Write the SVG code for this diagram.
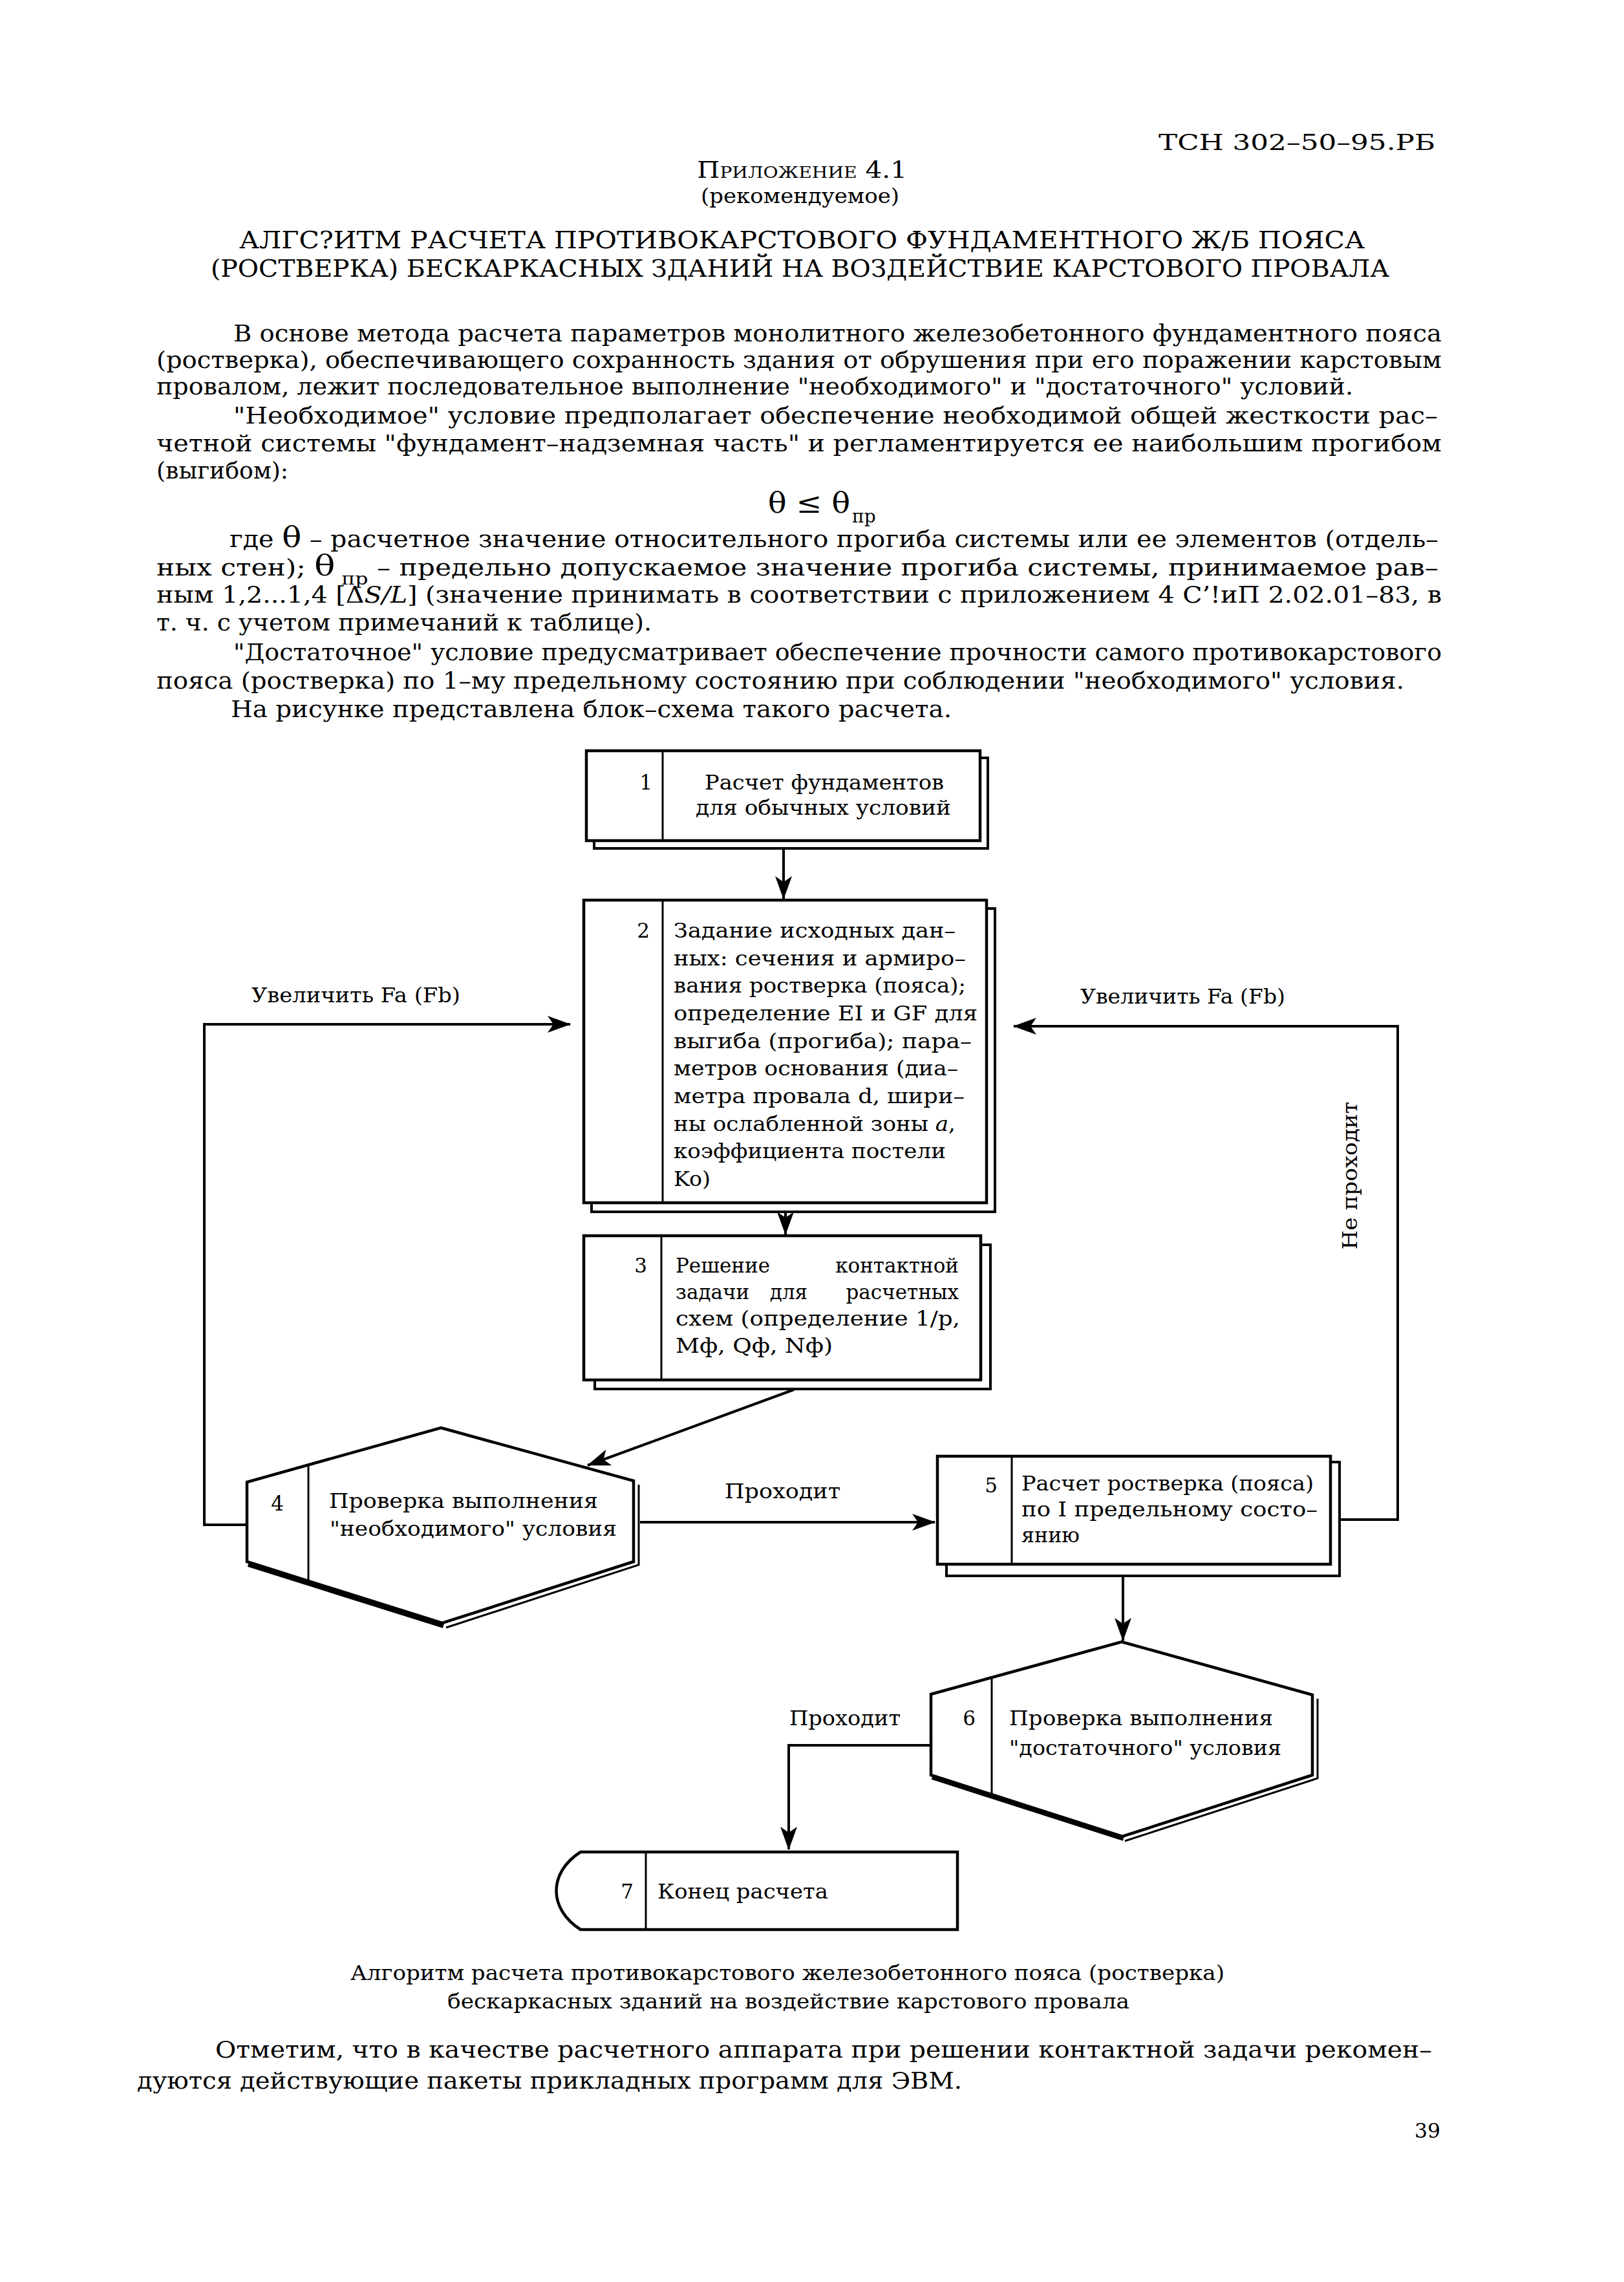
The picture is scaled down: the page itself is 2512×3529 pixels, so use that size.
<svg xmlns="http://www.w3.org/2000/svg" width="2512" height="3529" viewBox="0 0 2512 3529">
<defs>
<style>
text{font-family:"DejaVu Serif","Liberation Serif",serif;fill:#000}
.b{font-size:35px}
.f{font-size:31px}
.box{fill:#fff;stroke:#000;stroke-width:4.5}
.sh{fill:#fff;stroke:#000;stroke-width:4}
.dv{fill:none;stroke:#000;stroke-width:3}
.ln{fill:none;stroke:#000;stroke-width:4}
</style>
<marker id="ar" viewBox="0 0 36 30" refX="35" refY="15" markerWidth="36" markerHeight="30" markerUnits="userSpaceOnUse" orient="auto">
<path d="M0,2 L36,15 L0,28 L9,15 Z" fill="#000"/>
</marker>
</defs>
<rect width="2512" height="3529" fill="#fff"/>

<g id="header">
<text x="1792" y="232" font-size="34" textLength="428" lengthAdjust="spacingAndGlyphs">ТСН 302–50–95.РБ</text>
<text x="1078" y="275" font-size="36" font-variant="small-caps" textLength="325" lengthAdjust="spacingAndGlyphs">Приложение 4.1</text>
<text x="1084" y="314" font-size="32" textLength="307" lengthAdjust="spacingAndGlyphs">(рекомендуемое)</text>
<text x="370" y="384" font-size="37" textLength="1741" lengthAdjust="spacingAndGlyphs">АЛГС?ИТМ РАСЧЕТА ПРОТИВОКАРСТОВОГО ФУНДАМЕНТНОГО  Ж/Б  ПОЯСА</text>
<text x="326" y="428" font-size="37" textLength="1823" lengthAdjust="spacingAndGlyphs">(РОСТВЕРКА) БЕСКАРКАСНЫХ ЗДАНИЙ НА ВОЗДЕЙСТВИЕ КАРСТОВОГО ПРОВАЛА</text>
</g>

<g id="body">
<text class="b" x="361" y="528" textLength="1869" lengthAdjust="spacingAndGlyphs">В основе метода расчета параметров монолитного железобетонного фундаментного пояса</text>
<text class="b" x="242" y="569" textLength="1988" lengthAdjust="spacingAndGlyphs">(ростверка), обеспечивающего сохранность здания от обрушения при его поражении карстовым</text>
<text class="b" x="242" y="610" textLength="1851" lengthAdjust="spacingAndGlyphs">провалом, лежит последовательное выполнение "необходимого" и "достаточного" условий.</text>
<text class="b" x="361" y="655" textLength="1863" lengthAdjust="spacingAndGlyphs">"Необходимое" условие предполагает обеспечение необходимой общей жесткости рас–</text>
<text class="b" x="242" y="698" textLength="1988" lengthAdjust="spacingAndGlyphs">четной системы "фундамент–надземная часть" и регламентируется ее наибольшим прогибом</text>
<text class="b" x="242" y="740" textLength="204" lengthAdjust="spacingAndGlyphs">(выгибом):</text>
<text x="1188" y="793" font-size="44" textLength="127" lengthAdjust="spacingAndGlyphs">θ ≤ θ</text>
<text x="1318" y="808" font-size="28">пр</text>
<text class="b" x="355" y="846" textLength="1870" lengthAdjust="spacingAndGlyphs">где <tspan font-size="44">θ</tspan> – расчетное значение относительного прогиба системы или ее элементов (отдель–</text>
<text class="b" x="242" y="890" textLength="1983" lengthAdjust="spacingAndGlyphs">ных стен); <tspan font-size="44">θ</tspan><tspan font-size="26" dy="14"> пр</tspan><tspan dy="-14">  –  предельно допускаемое  значение  прогиба  системы,  принимаемое рав–</tspan></text>
<text class="b" x="242" y="932" textLength="1988" lengthAdjust="spacingAndGlyphs">ным 1,2...1,4 [Δ<tspan font-style="italic">S/L</tspan>]  (значение принимать в соответствии с приложением 4 С’!иП 2.02.01–83, в</text>
<text class="b" x="242" y="975" textLength="766" lengthAdjust="spacingAndGlyphs">т. ч. с учетом примечаний к таблице).</text>
<text class="b" x="361" y="1021" textLength="1869" lengthAdjust="spacingAndGlyphs">"Достаточное" условие предусматривает обеспечение прочности самого противокарстового</text>
<text class="b" x="242" y="1065" textLength="1930" lengthAdjust="spacingAndGlyphs">пояса (ростверка) по 1–му предельному состоянию при соблюдении "необходимого" условия.</text>
<text class="b" x="357" y="1109" textLength="1115" lengthAdjust="spacingAndGlyphs">На рисунке представлена блок–схема такого расчета.</text>
</g>

<g id="connectors">
<path class="ln" d="M1212,1312 L1212,1390" marker-end="url(#ar)"/>
<path class="ln" d="M1215,1874 L1215,1909" marker-end="url(#ar)"/>
<path class="ln" d="M1228,2149 L909,2266" marker-end="url(#ar)"/>
<path class="ln" d="M382,2358 L316,2358 L316,1584 L882,1584" marker-end="url(#ar)"/>
<path class="ln" d="M990,2354 L1446,2354" marker-end="url(#ar)"/>
<path class="ln" d="M2072,2350 L2162,2350 L2162,1587 L1568,1587" marker-end="url(#ar)"/>
<path class="ln" d="M1737,2437 L1737,2537" marker-end="url(#ar)"/>
<path class="ln" d="M1440,2699 L1220,2699 L1220,2860" marker-end="url(#ar)"/>
<text class="f" x="389" y="1550" textLength="323" lengthAdjust="spacingAndGlyphs">Увеличить Fa (Fb)</text>
<text class="f" x="1671" y="1552" textLength="317" lengthAdjust="spacingAndGlyphs">Увеличить Fa (Fb)</text>
<text class="f" transform="translate(2099,1818) rotate(-90)" text-anchor="middle" textLength="229" lengthAdjust="spacingAndGlyphs">Не проходит</text>
<text class="f" x="1121" y="2317" textLength="179" lengthAdjust="spacingAndGlyphs">Проходит</text>
<text class="f" x="1221" y="2668" textLength="172" lengthAdjust="spacingAndGlyphs">Проходит</text>
</g>

<g id="node1">
<rect class="sh" x="919" y="1172" width="609" height="140"/>
<rect class="box" x="907" y="1161" width="609" height="139"/>
<line class="dv" x1="1025" y1="1161" x2="1025" y2="1300"/>
<text class="f" x="999" y="1221" text-anchor="middle">1</text>
<text class="f" x="1090" y="1221" textLength="370" lengthAdjust="spacingAndGlyphs">Расчет фундаментов</text>
<text class="f" x="1076" y="1260" textLength="395" lengthAdjust="spacingAndGlyphs">для обычных условий</text>
</g>

<g id="node2">
<rect class="sh" x="915" y="1405" width="624" height="469"/>
<rect class="box" x="903" y="1392" width="623" height="468"/>
<line class="dv" x1="1025" y1="1392" x2="1025" y2="1860"/>
<text class="f" x="995" y="1450" text-anchor="middle">2</text>
<text class="f" x="1042" y="1450" textLength="436" lengthAdjust="spacingAndGlyphs">Задание исходных дан–</text>
<text class="f" x="1042" y="1493" textLength="452" lengthAdjust="spacingAndGlyphs">ных: сечения и армиро–</text>
<text class="f" x="1042" y="1535" textLength="452" lengthAdjust="spacingAndGlyphs">вания ростверка (пояса);</text>
<text class="f" x="1042" y="1578" textLength="470" lengthAdjust="spacingAndGlyphs">определение  EI и GF для</text>
<text class="f" x="1042" y="1621" textLength="461" lengthAdjust="spacingAndGlyphs">выгиба (прогиба);  пара–</text>
<text class="f" x="1042" y="1663" textLength="440" lengthAdjust="spacingAndGlyphs">метров основания (диа–</text>
<text class="f" x="1042" y="1706" textLength="450" lengthAdjust="spacingAndGlyphs">метра провала d, шири–</text>
<text class="f" x="1042" y="1749" textLength="436" lengthAdjust="spacingAndGlyphs">ны ослабленной зоны <tspan font-style="italic">a</tspan>,</text>
<text class="f" x="1042" y="1791" textLength="421" lengthAdjust="spacingAndGlyphs">коэффициента постели</text>
<text class="f" x="1042" y="1834" textLength="57" lengthAdjust="spacingAndGlyphs">Ko)</text>
</g>

<g id="node3">
<rect class="sh" x="920" y="1925" width="612" height="223"/>
<rect class="box" x="903" y="1911" width="614" height="223"/>
<line class="dv" x1="1023" y1="1911" x2="1023" y2="2134"/>
<text class="f" x="991" y="1968" text-anchor="middle">3</text>
<text class="f" x="1045" y="1968">Решение</text>
<text class="f" x="1483" y="1968" text-anchor="end">контактной</text>
<text class="f" x="1045" y="2009">задачи</text>
<text class="f" x="1220" y="2009" text-anchor="middle">для</text>
<text class="f" x="1483" y="2009" text-anchor="end">расчетных</text>
<text class="f" x="1045" y="2050" textLength="440" lengthAdjust="spacingAndGlyphs">схем (определение 1/р,</text>
<text class="f" x="1045" y="2092" textLength="243" lengthAdjust="spacingAndGlyphs">Мф, Qф, Nф)</text>
</g>

<g id="node4">
<polygon class="box" points="682,2208 980,2290 980,2415 684,2510 382,2415 382,2292"/>
<polyline class="dv" points="988,2296 988,2420 690,2517"/>
<line x1="384" y1="2419" x2="686" y2="2514" stroke="#000" stroke-width="8"/>
<line class="dv" x1="477" y1="2265" x2="477" y2="2445"/>
<text class="f" x="429" y="2336" text-anchor="middle">4</text>
<text class="f" x="509" y="2332" textLength="416" lengthAdjust="spacingAndGlyphs">Проверка выполнения</text>
<text class="f" x="510" y="2375" textLength="444" lengthAdjust="spacingAndGlyphs">"необходимого" условия</text>
</g>

<g id="node5">
<rect class="sh" x="1464" y="2261" width="608" height="176"/>
<rect class="box" x="1450" y="2252" width="608" height="167"/>
<line class="dv" x1="1565" y1="2252" x2="1565" y2="2419"/>
<text class="f" x="1533" y="2308" text-anchor="middle">5</text>
<text class="f" x="1580" y="2305" textLength="452" lengthAdjust="spacingAndGlyphs">Расчет ростверка (пояса)</text>
<text class="f" x="1580" y="2345" textLength="458" lengthAdjust="spacingAndGlyphs">по I предельному состо–</text>
<text class="f" x="1580" y="2385" textLength="90" lengthAdjust="spacingAndGlyphs">янию</text>
</g>

<g id="node6">
<polygon class="box" points="1735,2539 2030,2621 2030,2745 1736,2840 1440,2745 1440,2620"/>
<polyline class="dv" points="2038,2627 2038,2750 1740,2847"/>
<line x1="1442" y1="2748" x2="1738" y2="2843" stroke="#000" stroke-width="8"/>
<line class="dv" x1="1534" y1="2594" x2="1534" y2="2775"/>
<text class="f" x="1499" y="2668" text-anchor="middle">6</text>
<text class="f" x="1561" y="2668" textLength="408" lengthAdjust="spacingAndGlyphs">Проверка выполнения</text>
<text class="f" x="1561" y="2714" textLength="421" lengthAdjust="spacingAndGlyphs">"достаточного" условия</text>
</g>

<g id="node7">
<path class="box" d="M898,2864 L1481,2864 L1481,2984 L898,2984 C848,2952 848,2896 898,2864 Z"/>
<line class="dv" x1="999" y1="2864" x2="999" y2="2984"/>
<text class="f" x="970" y="2936" text-anchor="middle">7</text>
<text class="f" x="1017" y="2936" textLength="264" lengthAdjust="spacingAndGlyphs">Конец расчета</text>
</g>

<g id="footer">
<text x="542" y="3062" font-size="31" textLength="1352" lengthAdjust="spacingAndGlyphs">Алгоритм расчета противокарстового железобетонного пояса (ростверка)</text>
<text x="692" y="3106" font-size="31" textLength="1055" lengthAdjust="spacingAndGlyphs">бескаркасных зданий на воздействие карстового провала</text>
<text class="b" x="333" y="3182" textLength="1882" lengthAdjust="spacingAndGlyphs">Отметим, что в качестве расчетного аппарата при решении контактной задачи рекомен–</text>
<text class="b" x="212" y="3230" textLength="1276" lengthAdjust="spacingAndGlyphs">дуются действующие пакеты прикладных программ для ЭВМ.</text>
<text x="2188" y="3306" font-size="32" textLength="40" lengthAdjust="spacingAndGlyphs">39</text>
</g>
</svg>
